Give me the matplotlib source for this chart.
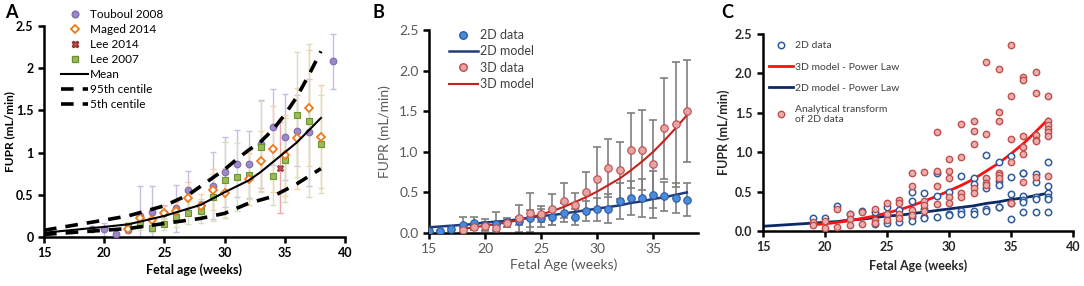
import matplotlib
matplotlib.use("Agg")
import matplotlib.pyplot as plt
from matplotlib.lines import Line2D

plt.rcParams["font.family"] = ["Lato", "DejaVu Sans"]

# ---------------- Panel A data ----------------
touboul_wk = [19, 20, 21, 22, 23, 24, 25, 26, 27, 28, 29, 30, 31, 32, 33, 34, 35, 36, 37, 39]
touboul_val = [0.10, 0.09, 0.04, 0.08, 0.25, 0.30, 0.28, 0.34, 0.56, 0.38, 0.61, 0.77, 0.87, 0.86, 1.10, 1.30, 1.19, 1.26, 1.24, 2.08]
touboul_sd = [0.0, 0.08, 0.0, 0.0, 0.35, 0.30, 0.10, 0.28, 0.22, 0.05, 0.40, 0.41, 0.40, 0.40, 0.52, 0.45, 0.51, 0.42, 0.63, 0.33]

maged_wk = [22, 23, 24, 25, 26, 27, 28, 29, 30, 32, 33, 34, 35, 36, 37, 38]
maged_val = [0.09, 0.22, 0.20, 0.29, 0.31, 0.46, 0.37, 0.56, 0.52, 0.69, 0.90, 1.04, 0.97, 1.17, 1.53, 1.19]
maged_sd = [0.03, 0.06, 0.06, 0.08, 0.10, 0.19, 0.14, 0.24, 0.30, 0.31, 0.36, 0.51, 0.48, 0.60, 0.69, 0.61]

lee14_wk = [34.6]
lee14_val = [0.82]
lee14_sd = [0.54]

lee07_wk = [22, 23, 24, 25, 26, 27, 28, 29, 30, 31, 32, 33, 34, 35, 36, 37, 38]
lee07_val = [0.13, 0.15, 0.11, 0.15, 0.24, 0.29, 0.31, 0.47, 0.68, 0.71, 0.74, 1.07, 0.72, 0.91, 1.45, 1.38, 1.10]
lee07_sd = [0.05, 0.07, 0.05, 0.07, 0.12, 0.14, 0.14, 0.28, 0.45, 0.40, 0.29, 0.54, 0.34, 0.50, 0.74, 0.91, 0.58]

mean_wk = [15, 20, 22, 25, 28, 30, 32, 33, 36, 38]
mean_val = [0.05, 0.12, 0.15, 0.25, 0.38, 0.53, 0.67, 0.77, 1.12, 1.41]
p95_wk = [15, 20, 22, 25, 27, 29, 30, 31, 32, 33, 34, 35, 36, 37, 38]
p95_val = [0.08, 0.20, 0.25, 0.37, 0.50, 0.70, 0.80, 0.92, 1.03, 1.13, 1.27, 1.45, 1.66, 1.92, 2.20]
p5_wk = [15, 20, 22, 25, 28, 30, 32, 34, 36, 38]
p5_val = [0.03, 0.08, 0.10, 0.16, 0.22, 0.28, 0.40, 0.48, 0.63, 0.81]

# ---------------- Panel B data ----------------
b2d_wk = [15, 16, 17, 18, 19, 20, 21, 22, 23, 24, 25, 26, 27, 28, 29, 30, 31, 32, 33, 34, 35, 36, 37, 38]
b2d_val = [0.03, 0.02, 0.05, 0.10, 0.12, 0.10, 0.11, 0.13, 0.15, 0.18, 0.19, 0.20, 0.25, 0.20, 0.27, 0.29, 0.30, 0.39, 0.43, 0.43, 0.47, 0.45, 0.43, 0.41]
b2d_sd = [0.02, 0.02, 0.03, 0.10, 0.08, 0.07, 0.15, 0.06, 0.05, 0.10, 0.11, 0.10, 0.12, 0.10, 0.12, 0.14, 0.18, 0.22, 0.21, 0.23, 0.29, 0.18, 0.18, 0.20]

b3d_wk = [18, 19, 20, 21, 22, 23, 24, 25, 26, 27, 28, 29, 30, 31, 32, 33, 34, 35, 36, 37, 38]
b3d_val = [0.04, 0.07, 0.09, 0.06, 0.12, 0.18, 0.25, 0.23, 0.29, 0.40, 0.34, 0.51, 0.67, 0.80, 0.77, 1.02, 1.02, 0.85, 1.29, 1.34, 1.50]
b3d_sd = [0.02, 0.03, 0.05, 0.04, 0.05, 0.17, 0.24, 0.10, 0.19, 0.21, 0.15, 0.24, 0.39, 0.36, 0.35, 0.46, 0.49, 0.54, 0.62, 0.77, 0.63]

model_wk = [15, 16, 17, 18, 19, 20, 21, 22, 23, 24, 25, 26, 27, 28, 29, 30, 31, 32, 33, 34, 35, 36, 37, 38]
model2d_val = [0.07, 0.08, 0.09, 0.10, 0.11, 0.13, 0.14, 0.15, 0.17, 0.19, 0.21, 0.22, 0.24, 0.26, 0.28, 0.30, 0.32, 0.34, 0.37, 0.39, 0.42, 0.44, 0.47, 0.50]
model3d_wk = [18, 19, 20, 21, 22, 23, 24, 25, 26, 27, 28, 29, 30, 31, 32, 33, 34, 35, 36, 37, 38]
model3d_val = [0.05, 0.07, 0.09, 0.11, 0.13, 0.16, 0.19, 0.23, 0.27, 0.32, 0.38, 0.44, 0.51, 0.59, 0.67, 0.77, 0.88, 1.00, 1.14, 1.29, 1.45]

# ---------------- Panel C data ----------------
c2d_wk = [19, 20, 21, 22, 23, 24, 24, 25, 25, 25, 26, 26, 27, 27, 27, 27, 28, 28, 28, 28,
          29, 29, 29, 30, 30, 30, 31, 31, 31, 32, 32, 32, 32, 33, 33, 33, 33,
          34, 34, 34, 34, 34, 35, 35, 35, 35, 35, 36, 36, 36, 36, 36, 36,
          37, 37, 37, 37, 37, 38, 38, 38, 38, 38, 38]
c2d_val = [0.16, 0.16, 0.32, 0.22, 0.26, 0.24, 0.09, 0.30, 0.20, 0.10, 0.27, 0.11, 0.50, 0.38, 0.18, 0.13, 0.48, 0.28, 0.18, 0.16,
           0.74, 0.45, 0.18, 0.50, 0.22, 0.20, 0.70, 0.25, 0.22, 0.67, 0.60, 0.25, 0.22, 0.96, 0.55, 0.28, 0.25,
           0.87, 0.64, 0.59, 0.31, 0.30, 0.95, 0.68, 0.47, 0.35, 0.15, 0.74, 0.73, 0.45, 0.39, 0.37, 0.24,
           0.72, 0.62, 0.43, 0.40, 0.24, 0.87, 0.57, 0.48, 0.43, 0.40, 0.24]
c3d_wk = [19, 19, 20, 20, 21, 21, 22, 22, 22, 23, 23, 24, 24, 24, 25, 25, 25, 26, 26, 26, 26,
          27, 27, 27, 27, 28, 28, 28, 28, 29, 29, 29, 29, 30, 30, 30, 30, 30,
          31, 31, 31, 31, 32, 32, 32, 32, 32, 33, 33, 33, 33, 33,
          34, 34, 34, 34, 34, 34, 35, 35, 35, 35, 35, 36, 36, 36, 36, 36, 36,
          37, 37, 37, 37, 37, 37, 38, 38, 38, 38, 38, 38, 38]
c3d_val = [0.11, 0.07, 0.13, 0.04, 0.28, 0.05, 0.22, 0.15, 0.07, 0.24, 0.085, 0.28, 0.14, 0.10, 0.36, 0.22, 0.14, 0.39, 0.35, 0.22, 0.16,
           0.73, 0.57, 0.27, 0.20, 0.75, 0.38, 0.33, 0.25, 1.26, 0.76, 0.57, 0.34, 0.92, 0.76, 0.67, 0.43, 0.36,
           1.36, 0.94, 0.48, 0.43, 1.40, 1.27, 1.10, 0.54, 0.48, 2.14, 1.23, 0.67, 0.61, 0.58,
           2.06, 1.51, 1.40, 0.74, 0.71, 0.67, 2.36, 1.71, 1.17, 0.87, 0.36, 1.96, 1.91, 1.20, 1.06, 0.98, 0.62,
           2.02, 1.75, 1.22, 1.16, 1.14, 0.69, 1.71, 1.39, 1.35, 1.30, 1.26, 1.20, 0.70]
c_model2d_wk = model_wk
c_model2d_val = [0.06, 0.07, 0.08, 0.09, 0.10, 0.11, 0.12, 0.14, 0.15, 0.17, 0.19, 0.20, 0.22, 0.24, 0.26, 0.28, 0.30, 0.32, 0.35, 0.37, 0.40, 0.42, 0.45, 0.48]
c_model3d_wk = [19, 20, 21, 22, 23, 24, 25, 26, 27, 28, 29, 30, 31, 32, 33, 34, 35, 36, 37, 38]
c_model3d_val = [0.08, 0.09, 0.11, 0.13, 0.16, 0.19, 0.23, 0.27, 0.32, 0.38, 0.44, 0.51, 0.58, 0.66, 0.76, 0.86, 0.98, 1.11, 1.26, 1.42]

W, H = 1084, 286
fig = plt.figure(figsize=(W / 100, H / 100), dpi=100)


def box(l, r, t, b):
    return [l / W, 1 - b / H, (r - l) / W, (b - t) / H]


def style_axes(ax, lw, color="black"):
    for s in ["top", "right"]:
        ax.spines[s].set_visible(False)
    for s in ["left", "bottom"]:
        ax.spines[s].set_linewidth(lw)
        ax.spines[s].set_color(color)
    ax.tick_params(direction="out", length=4, width=lw, color=color)


# ================= Panel A =================
axA = fig.add_axes(box(44, 345, 26, 237))
style_axes(axA, 1.8)
eb = dict(fmt="none", elinewidth=1.0, capsize=2.5, capthick=1.0, zorder=2)
axA.errorbar(touboul_wk, touboul_val, yerr=touboul_sd, ecolor="#c9bde3", **eb)
axA.errorbar(maged_wk, maged_val, yerr=maged_sd, ecolor="#fbcfa6", **eb)
axA.errorbar(lee14_wk, lee14_val, yerr=lee14_sd, ecolor="#e6a9a8", **eb)
axA.errorbar(lee07_wk, lee07_val, yerr=lee07_sd, ecolor="#d3e3b9", **eb)
axA.plot(touboul_wk, touboul_val, "o", ms=4.8, mfc="#9c88c9", mec="#7f6bb2", mew=0.8, zorder=4)
axA.plot(maged_wk, maged_val, "D", ms=3.6, mfc="white", mec="#f07a1a", mew=1.3, zorder=5)
axA.plot(lee14_wk, lee14_val, "X", ms=5, mfc="#c0504d", mec="#8b2b2a", mew=0.6, zorder=5)
axA.plot(lee07_wk, lee07_val, "s", ms=4.6, mfc="#9bbb59", mec="#6a9333", mew=0.8, zorder=4)
axA.plot(mean_wk, mean_val, "-", color="black", lw=1.5, zorder=6)
axA.plot(p95_wk, p95_val, color="black", lw=2.6, dashes=(3.5, 2.5), zorder=6)
axA.plot(p5_wk, p5_val, color="black", lw=2.6, dashes=(3.5, 2.5), zorder=6)
axA.set_xlim(15, 40)
axA.set_ylim(0, 2.5)
axA.set_xticks([15, 20, 25, 30, 35, 40])
axA.set_yticks([0, 0.5, 1, 1.5, 2, 2.5])
axA.set_yticklabels(["0", "0.5", "1", "1.5", "2", "2.5"])
for lab in axA.get_xticklabels() + axA.get_yticklabels():
    lab.set_fontweight("bold")
    lab.set_fontsize(9)
axA.set_xlabel("Fetal age (weeks)", fontsize=9, fontweight="bold", labelpad=3)
axA.set_ylabel("FUPR (mL/min)", fontsize=8.5, fontweight="bold")
axA.yaxis.set_label_coords(15 / W, 0.5 * (1 - 26 / H + 1 - 237 / H), transform=fig.transFigure)
handlesA = [
    Line2D([], [], ls="none", marker="o", ms=4.8, mfc="#9c88c9", mec="#7f6bb2"),
    Line2D([], [], ls="none", marker="D", ms=3.6, mfc="white", mec="#f07a1a", mew=1.3),
    Line2D([], [], ls="none", marker="X", ms=5, mfc="#c0504d", mec="#8b2b2a"),
    Line2D([], [], ls="none", marker="s", ms=4.6, mfc="#9bbb59", mec="#6a9333"),
    Line2D([], [], color="black", lw=1.5),
    Line2D([], [], color="black", lw=2.6, dashes=(3.5, 2.5)),
    Line2D([], [], color="black", lw=2.6, dashes=(3.5, 2.5)),
]
labelsA = ["Touboul 2008", "Maged 2014", "Lee 2014", "Lee 2007", "Mean", "95th centile", "5th centile"]
axA.legend(handlesA, labelsA, loc="upper left", bbox_to_anchor=(61 / W, 1 - 9 / H),
           bbox_transform=fig.transFigure, frameon=False, fontsize=8.5, handlelength=2.3,
           handletextpad=0.15, labelspacing=0.34, borderpad=0, borderaxespad=0)
fig.text(5 / W, 1 - 12 / H, "A", fontsize=13, fontweight="bold", va="center", ha="left")

# ================= Panel B =================
gray = "#595959"
axB = fig.add_axes(box(429, 698, 30, 233))
style_axes(axB, 1.8)
axB.tick_params(labelcolor=gray)
ebB = dict(fmt="none", ecolor="#7f7f7f", elinewidth=1.2, capsize=3, capthick=1.2, zorder=2)
axB.errorbar(b2d_wk, b2d_val, yerr=b2d_sd, **ebB)
axB.errorbar(b3d_wk, b3d_val, yerr=b3d_sd, **ebB)
axB.plot(model_wk, model2d_val, color="#1f3c7a", lw=1.8, zorder=3)
axB.plot(model3d_wk, model3d_val, color="#c8201f", lw=1.5, zorder=3)
axB.plot(b2d_wk, b2d_val, "o", ms=5.4, mfc="#4a8be0", mec="#2c5a9c", mew=0.8, zorder=4)
axB.plot(b3d_wk, b3d_val, "o", ms=5.4, mfc="#e9a3a3", mec="#b8504e", mew=0.8, zorder=4)
axB.set_xlim(15, 39)
axB.set_ylim(0, 2.5)
axB.set_xticks([15, 20, 25, 30, 35])
axB.set_yticks([0, 0.5, 1.0, 1.5, 2.0, 2.5])
axB.set_yticklabels(["0.0", "0.5", "1.0", "1.5", "2.0", "2.5"])
for lab in axB.get_xticklabels() + axB.get_yticklabels():
    lab.set_fontsize(10)
axB.set_xlabel("Fetal Age (weeks)", fontsize=10, color=gray, labelpad=2)
axB.set_ylabel("FUPR (mL/min)", fontsize=10, color=gray, labelpad=6)
handlesB = [
    Line2D([], [], ls="none", marker="o", ms=5.4, mfc="#4a8be0", mec="#2c5a9c"),
    Line2D([], [], color="#1f3c7a", lw=1.8),
    Line2D([], [], ls="none", marker="o", ms=5.4, mfc="#e9a3a3", mec="#b8504e"),
    Line2D([], [], color="#c8201f", lw=1.5),
]
legB = axB.legend(handlesB, ["2D data", "2D model", "3D data", "3D model"], loc="upper left",
                  bbox_to_anchor=(449 / W, 1 - 29 / H), bbox_transform=fig.transFigure,
                  frameon=False, fontsize=9, handlelength=2.3, handletextpad=0.2,
                  labelspacing=0.35, borderpad=0, borderaxespad=0)
for t in legB.get_texts():
    t.set_color("#404040")
fig.text(372 / W, 1 - 12 / H, "B", fontsize=13, fontweight="bold", va="center", ha="left")

# ================= Panel C =================
axC = fig.add_axes(box(763, 1073, 34, 231))
style_axes(axC, 1.8)
axC.plot(c_model2d_wk, c_model2d_val, color="#0d2a66", lw=2.0, zorder=2)
axC.plot(c_model3d_wk, c_model3d_val, color="#ff1010", lw=2.0, zorder=2)
axC.plot(c2d_wk, c2d_val, "o", ms=4.6, mfc="white", mec="#2f5b9c", mew=1.1, zorder=3)
axC.plot(c3d_wk, c3d_val, "o", ms=4.6, mfc="#eab0b0", mec="#c0504d", mew=1.0, zorder=4)
axC.set_xlim(15, 40)
axC.set_ylim(0, 2.5)
axC.set_xticks([15, 20, 25, 30, 35, 40])
axC.set_yticks([0, 0.5, 1.0, 1.5, 2.0, 2.5])
axC.set_yticklabels(["0.0", "0.5", "1.0", "1.5", "2.0", "2.5"])
for lab in axC.get_xticklabels() + axC.get_yticklabels():
    lab.set_fontweight("bold")
    lab.set_fontsize(9)
    lab.set_color("#262626")
axC.set_xlabel("Fetal Age (weeks)", fontsize=9, fontweight="bold", color="#262626", labelpad=4)
axC.set_ylabel("FUPR (mL/min)", fontsize=9, fontweight="bold", color="#262626", labelpad=4)
handlesC = [
    Line2D([], [], ls="none", marker="o", ms=4.6, mfc="white", mec="#2f5b9c", mew=1.1),
    Line2D([], [], color="#ff1010", lw=2.0),
    Line2D([], [], color="#0d2a66", lw=2.0),
    Line2D([], [], ls="none", marker="o", ms=4.6, mfc="#eab0b0", mec="#c0504d"),
]
legC = axC.legend(handlesC, ["2D data", "3D model - Power Law", "2D model - Power Law",
                             "Analytical transform\nof 2D data"], loc="upper left",
                  bbox_to_anchor=(769 / W, 1 - 41 / H), bbox_transform=fig.transFigure,
                  frameon=False, fontsize=7.5, handlelength=2.3, handletextpad=0.15,
                  labelspacing=1.15, borderpad=0, borderaxespad=0)
for t in legC.get_texts():
    t.set_color("#404040")
fig.text(721 / W, 1 - 12 / H, "C", fontsize=13, fontweight="bold", va="center", ha="left")

fig.savefig("out.png", dpi=100)
